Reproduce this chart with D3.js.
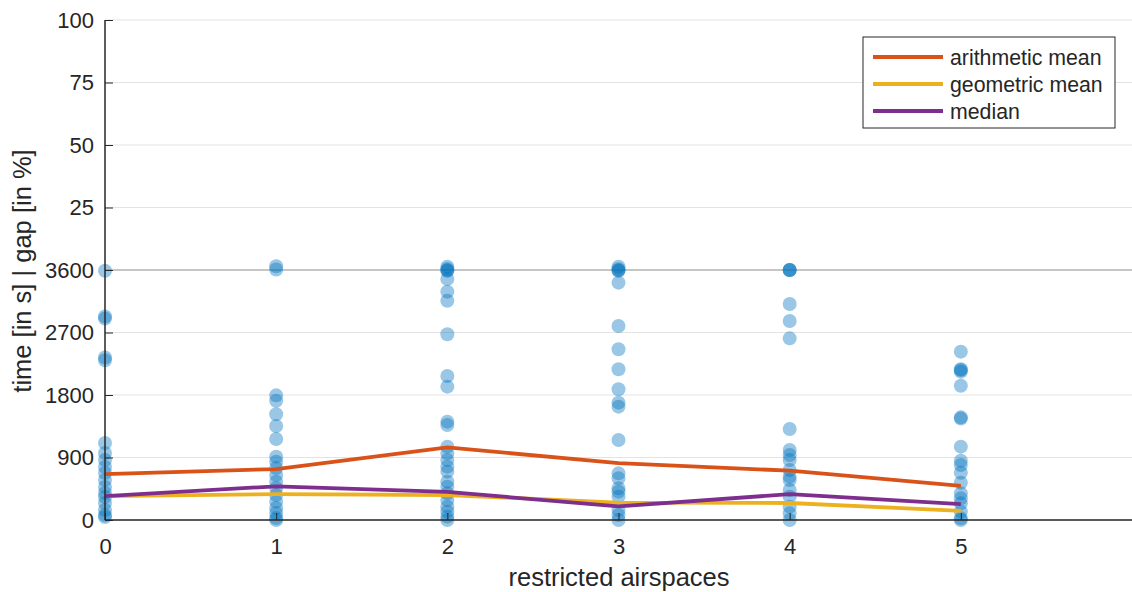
<!DOCTYPE html>
<html><head><meta charset="utf-8">
<script src="https://cdn.jsdelivr.net/npm/d3@7"></script>
<style>body{margin:0;background:#fff}text{font-family:"Liberation Sans",Arial,Helvetica,sans-serif;fill:#262626}</style>
</head><body><svg id="c" width="1132" height="592"></svg>
<script>
const categories = [0, 1, 2, 3, 4, 5];
const yTickLabels = ["0", "900", "1800", "2700", "3600", "25", "50", "75", "100"];
// run times in seconds per category
const timeValues = [
  [3590, 2900, 2930, 2300, 2340, 1109, 965, 864, 763, 677, 576, 475, 389, 331, 245, 144, 72, 43],
  [1795, 1718, 1522, 1354, 1166, 912, 840, 749, 648, 552, 461, 360, 264, 173, 101, 29, 0],
  [3590, 3595, 3470, 3288, 3158, 2674, 2074, 1920, 1416, 1368, 1056, 960, 864, 768, 696, 552, 480, 384, 288, 192, 120, 48, 0],
  [3590, 3595, 3418, 2794, 2458, 2170, 1882, 1690, 1632, 1152, 672, 600, 456, 408, 336, 144, 72, 0],
  [3600, 3600, 3600, 3110, 2866, 2616, 1310, 1008, 936, 864, 720, 624, 576, 432, 336, 192, 96, 0],
  [2424, 2170, 2160, 2136, 1934, 1478, 1460, 1056, 854, 792, 681, 537, 384, 312, 240, 120, 24, 0]
];
// optimality gap in percent for runs that hit the time limit
const gapValues = [
  [],
  [1.5, 0.2],
  [1.3, 0.4],
  [1.3, 0.3],
  [],
  []
];
const arithmeticMean = [662, 734, 1045, 818, 710, 490];
const geometricMean = [345, 372, 360, 250, 245, 132];
const median = [345, 485, 405, 195, 372, 230];
const seriesNames = ["arithmetic mean", "geometric mean", "median"];
const seriesColors = ["#D95319", "#EDB120", "#7E2F8E"];

const svg = d3.select("#c");
const L = 105, R = 1132, T = 20, B = 520;
const x = d3.scaleLinear().domain([0, 6]).range([L, R]);
const y = d3.scaleLinear().domain([0, 8]).range([B, T]);
const tY = s => y(s / 900);
const gY = g => y(4 + g / 25);

// gridlines
svg.append("g").selectAll("line").data(d3.range(0, 9)).join("line")
  .attr("x1", L).attr("x2", R).attr("y1", d => y(d)).attr("y2", d => y(d))
  .attr("stroke", d => d === 4 ? "#8c8c8c" : "#e3e3e3").attr("stroke-width", 1);

// points
const pts = [];
categories.forEach((c, i) => {
  timeValues[i].forEach(v => pts.push([c, tY(v)]));
  gapValues[i].forEach(v => pts.push([c, gY(v)]));
});
svg.append("g").selectAll("circle").data(pts).join("circle")
  .attr("cx", d => x(d[0])).attr("cy", d => d[1]).attr("r", 7)
  .attr("fill", "#0072BD").attr("fill-opacity", 0.4);

// lines
const series = [arithmeticMean, geometricMean, median];
const line = d3.line().x((d, i) => x(categories[i])).y(d => tY(d));
[1, 2, 0].forEach(k => {
  svg.append("path").datum(series[k]).attr("d", line)
    .attr("fill", "none").attr("stroke", seriesColors[k]).attr("stroke-width", 3.8);
});

// axes
const xAxis = d3.axisBottom(x).tickValues(categories).tickSize(-7).tickPadding(18).tickFormat(d3.format("d"));
const gx = svg.append("g").attr("transform", `translate(0,${B})`).call(xAxis);
gx.select(".domain").attr("d", `M${L},0H${R}`).attr("stroke", "#262626").attr("stroke-width", 1.5);
gx.selectAll(".tick line").attr("stroke", "#262626");
gx.selectAll("text").attr("font-size", 22).style("font-family", "Liberation Sans, Arial, sans-serif").attr("fill", "#262626");

const yAxis = d3.axisLeft(y).tickValues(d3.range(0, 9)).tickSize(-8).tickPadding(11).tickFormat(d => yTickLabels[d]);
const gy = svg.append("g").attr("transform", `translate(${L},0)`).call(yAxis);
gy.select(".domain").attr("d", `M0,${B}V${T}`).attr("stroke", "#262626").attr("stroke-width", 1.5);
gy.selectAll(".tick line").attr("stroke", "#262626");
gy.selectAll("text").attr("font-size", 22).style("font-family", "Liberation Sans, Arial, sans-serif").attr("fill", "#262626");

svg.append("text").attr("x", 619).attr("y", 586).attr("text-anchor", "middle").attr("font-size", 25.5)
  .text("restricted airspaces");
svg.append("text").attr("transform", "translate(31,271) rotate(-90)").attr("text-anchor", "middle").attr("font-size", 25.5)
  .text("time [in s] | gap [in %]");

// legend
const lg = svg.append("g").attr("transform", "translate(863,37)");
lg.append("rect").attr("width", 252).attr("height", 91).attr("fill", "#fff").attr("stroke", "#262626").attr("stroke-width", 1);
seriesNames.forEach((n, i) => {
  const yy = 20 + i * 27;
  lg.append("line").attr("x1", 10).attr("x2", 80).attr("y1", yy).attr("y2", yy)
    .attr("stroke", seriesColors[i]).attr("stroke-width", 3.8);
  lg.append("text").attr("x", 87).attr("y", yy + 7.5).attr("font-size", 21.3).text(n);
});
</script></body></html>
